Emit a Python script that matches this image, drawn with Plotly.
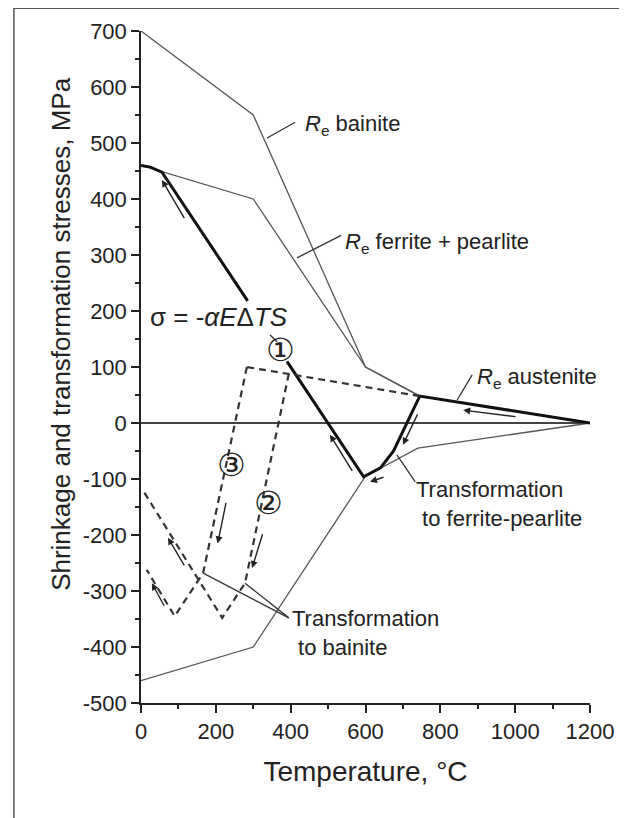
import plotly.graph_objects as go

# yield strength curves (thin lines)
re_T = [0, 300, 600, 745, 1200]
re_bainite = [700, 550, 100, 48, 0]
re_ferrite = [460, 400, 100, 48, 0]
re_lower_T = [0, 300, 600, 740, 1200]
re_lower = [-460, -400, -95, -45, 0]

# thick path: cooling with ferrite-pearlite transformation
thick1_T = [1200, 745, 675, 640, 595, 390]
thick1_S = [0, 48, -50, -80, -96, 110]
thick2_T = [285, 56, 25, 0]
thick2_S = [218, 448, 457, 460]

# dashed paths: bainite transformation
dash_top_T = [745, 395, 283]
dash_top_S = [48, 88, 100]
path2_T = [395, 278, 217, 5]
path2_S = [88, -286, -348, -120]
path3_T = [283, 166, 90, 15]
path3_S = [100, -268, -345, -262]

x_ticks = list(range(0, 1201, 200))
y_ticks = list(range(-500, 701, 100))

# arrows: (head T, head S, tail T, tail S)
arrows_solid = [
    (56, 434, 118, 363),
    (505, -21, 567, -88),
    (612, -105, 652, -96),
    (700, -39, 741, 18),
    (861, 23, 1005, 11),
]
arrows_dash = [
    (205, -215, 228, -140),
    (297, -259, 326, -196),
    (72, -205, 118, -257),
    (29, -286, 64, -329),
]

# labels: text, T, S, size
labels = [
    ("<i>R</i><sub>e</sub> bainite", 433, 532, 22),
    ("<i>R</i><sub>e</sub> ferrite + pearlite", 540, 321, 22),
    ("<i>R</i><sub>e</sub> austenite", 893, 80, 22),
    ("Transformation<br> to ferrite-pearlite", 730, -145, 22),
    ("Transformation<br> to bainite", 398, -375, 22),
    ("σ = -<i>αE</i>Δ<i>TS</i>", 18, 190, 26),
]
circles = [("①", 372, 130), ("②", 340, -143), ("③", 243, -75)]

# leader lines: T0, S0, T1, S1
leaders = [
    (337, 509, 412, 537),
    (417, 295, 535, 335),
    (845, 41, 885, 86),
    (684, -57, 733, -105),
    (166, -268, 395, -348),
    (278, -286, 395, -348),
    (345, 157, 364, 145),
]

thin = dict(color="#555555", width=1.3)
fig = go.Figure()
fig.add_trace(go.Scatter(x=re_T, y=re_bainite, mode="lines", line=thin))
fig.add_trace(go.Scatter(x=re_T, y=re_ferrite, mode="lines", line=thin))
fig.add_trace(go.Scatter(x=re_lower_T, y=re_lower, mode="lines", line=thin))
fig.add_trace(go.Scatter(x=thick1_T, y=thick1_S, mode="lines",
                         line=dict(color="#111111", width=3)))
fig.add_trace(go.Scatter(x=thick2_T, y=thick2_S, mode="lines",
                         line=dict(color="#111111", width=3)))
dash = dict(color="#333333", width=2.2, dash="7px,5px")
for tx, sy in [(dash_top_T, dash_top_S), (path2_T, path2_S), (path3_T, path3_S)]:
    fig.add_trace(go.Scatter(x=tx, y=sy, mode="lines", line=dash))

font = "Arial, Liberation Sans, sans-serif"
for hx, hy, tx, ty in arrows_solid + arrows_dash:
    fig.add_annotation(x=hx, y=hy, ax=tx, ay=ty, axref="x", ayref="y",
                       text="", showarrow=True, arrowhead=2, arrowsize=1,
                       arrowwidth=1.4, arrowcolor="#222222")
for txt, tx, sy, sz in labels:
    fig.add_annotation(x=tx, y=sy, text=txt, showarrow=False, xanchor="left",
                       align="left", font=dict(family=font, size=sz, color="#222222"))
for txt, tx, sy in circles:
    fig.add_annotation(x=tx, y=sy, text=txt, showarrow=False,
                       font=dict(family="DejaVu Sans", size=32, color="#222222"))
for t0, s0, t1, s1 in leaders:
    fig.add_shape(type="line", x0=t0, y0=s0, x1=t1, y1=s1,
                  line=dict(color="#333333", width=1.3))

# page frame
fig.add_shape(type="rect", xref="paper", yref="paper", x0=-0.283, x1=1.2,
              y0=-0.3, y1=1.034, line=dict(color="#555555", width=1.5))

# y axis title, placed by hand like the scanned figure
fig.add_annotation(xref="paper", yref="paper", x=-0.215, y=0.55, textangle=-90,
                   text="Shrinkage and transformation stresses, MPa",
                   showarrow=False, font=dict(family=font, size=26, color="#222222"))

fig.update_layout(
    width=619, height=810, showlegend=False,
    margin=dict(l=133, r=37, t=23, b=115),
    plot_bgcolor="white", paper_bgcolor="white",
    font=dict(family=font, size=22, color="#222222"),
)
fig.update_xaxes(
    range=[0, 1200], tickvals=x_ticks, ticktext=[str(v) for v in x_ticks],
    showline=True, linecolor="#222222", linewidth=1.5, ticks="outside",
    ticklen=8, tickwidth=1.5, tickcolor="#222222", showgrid=False, zeroline=False,
    minor=dict(dtick=100, ticks="outside", ticklen=4, tickcolor="#222222"),
    title=dict(text="Temperature, °C", font=dict(size=28), standoff=18),
)
fig.update_yaxes(
    range=[-500, 700], tickvals=y_ticks, ticktext=[str(v) for v in y_ticks],
    showline=True, linecolor="#222222", linewidth=1.5, ticks="outside",
    ticklen=8, tickwidth=1.5, tickcolor="#222222", showgrid=False,
    zeroline=True, zerolinecolor="#444444", zerolinewidth=1.5,
    minor=dict(dtick=50, ticks="outside", ticklen=4, tickcolor="#222222"),
)

fig.write_html("out.html")
